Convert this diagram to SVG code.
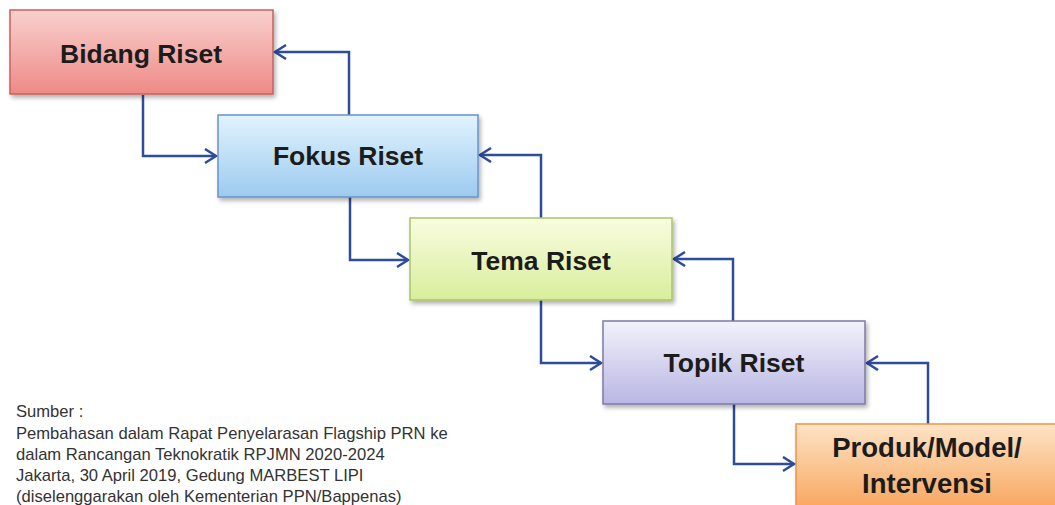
<svg xmlns="http://www.w3.org/2000/svg" width="1055" height="505" viewBox="0 0 1055 505">
<defs>
<style>
.lbl{font-family:"Liberation Sans",Arial,sans-serif;font-weight:bold;font-size:26.5px;fill:#1c1c1c;text-anchor:middle}
.src{font-family:"Liberation Sans",Arial,sans-serif;font-size:16.6px;fill:#333}
.con{fill:none;stroke:#2f4b9c;stroke-width:2.5;marker-end:url(#ah)}
.box{stroke-width:1.5;filter:url(#sh)}
</style>
<marker id="ah" markerUnits="userSpaceOnUse" markerWidth="16" markerHeight="18" refX="13" refY="8" orient="auto">
<path d="M2,1 L13,8 L2,15" fill="none" stroke="#2f4b9c" stroke-width="2.5"/>
</marker>
<filter id="sh" x="-10%" y="-10%" width="130%" height="140%">
<feDropShadow dx="2" dy="3" stdDeviation="2" flood-color="#000" flood-opacity="0.3"/>
</filter>
<linearGradient id="g1" x1="0" y1="0" x2="0" y2="1"><stop offset="0" stop-color="#f9d0ce"/><stop offset="1" stop-color="#ee8a87"/></linearGradient>
<linearGradient id="g2" x1="0" y1="0" x2="0" y2="1"><stop offset="0" stop-color="#e2f3fd"/><stop offset="1" stop-color="#9ccaf0"/></linearGradient>
<linearGradient id="g3" x1="0" y1="0" x2="0" y2="1"><stop offset="0" stop-color="#f8fce0"/><stop offset="1" stop-color="#d9ee9c"/></linearGradient>
<linearGradient id="g4" x1="0" y1="0" x2="0" y2="1"><stop offset="0" stop-color="#f2f2fb"/><stop offset="1" stop-color="#b9b6e3"/></linearGradient>
<linearGradient id="g5" x1="0" y1="0" x2="0" y2="1"><stop offset="0" stop-color="#fde4c6"/><stop offset="1" stop-color="#f8a257"/></linearGradient>
</defs>
<rect width="1055" height="505" fill="#ffffff"/>
<g id="connectors">
<path class="con" d="M143,95 V156 H216"/>
<path class="con" d="M349,115 V52 H275"/>
<path class="con" d="M350,197 V260 H408"/>
<path class="con" d="M541,218 V155 H480"/>
<path class="con" d="M541,300 V363 H601"/>
<path class="con" d="M733,321 V259 H674"/>
<path class="con" d="M734,404 V464 H794"/>
<path class="con" d="M928,424 V363 H867"/>
</g>
<g id="bidang-riset">
<rect class="box" x="10" y="10" width="263" height="84" fill="url(#g1)" stroke="#c9605c"/>
<text class="lbl" x="141" y="63">Bidang Riset</text>
</g>
<g id="fokus-riset">
<rect class="box" x="218" y="115" width="260" height="82" fill="url(#g2)" stroke="#6a93c8"/>
<text class="lbl" x="348" y="165">Fokus Riset</text>
</g>
<g id="tema-riset">
<rect class="box" x="410" y="218" width="262" height="82" fill="url(#g3)" stroke="#a9c46a"/>
<text class="lbl" x="541" y="270">Tema Riset</text>
</g>
<g id="topik-riset">
<rect class="box" x="603" y="321" width="262" height="83" fill="url(#g4)" stroke="#7d7aa8"/>
<text class="lbl" x="734" y="372">Topik Riset</text>
</g>
<g id="produk">
<rect class="box" x="796" y="424" width="264" height="90" fill="url(#g5)" stroke="#f0924a"/>
<text class="lbl" x="927" y="457" style="font-size:27.5px">Produk/Model/</text>
<text class="lbl" x="927" y="493" style="font-size:27.5px">Intervensi</text>
</g>
<g id="source">
<text class="src" x="16" y="417">Sumber :</text>
<text class="src" x="16" y="439">Pembahasan dalam Rapat Penyelarasan Flagship PRN ke</text>
<text class="src" x="16" y="460">dalam Rancangan Teknokratik RPJMN 2020-2024</text>
<text class="src" x="16" y="481">Jakarta, 30 April 2019, Gedung MARBEST LIPI</text>
<text class="src" x="16" y="502">(diselenggarakan oleh Kementerian PPN/Bappenas)</text>
</g>
</svg>
